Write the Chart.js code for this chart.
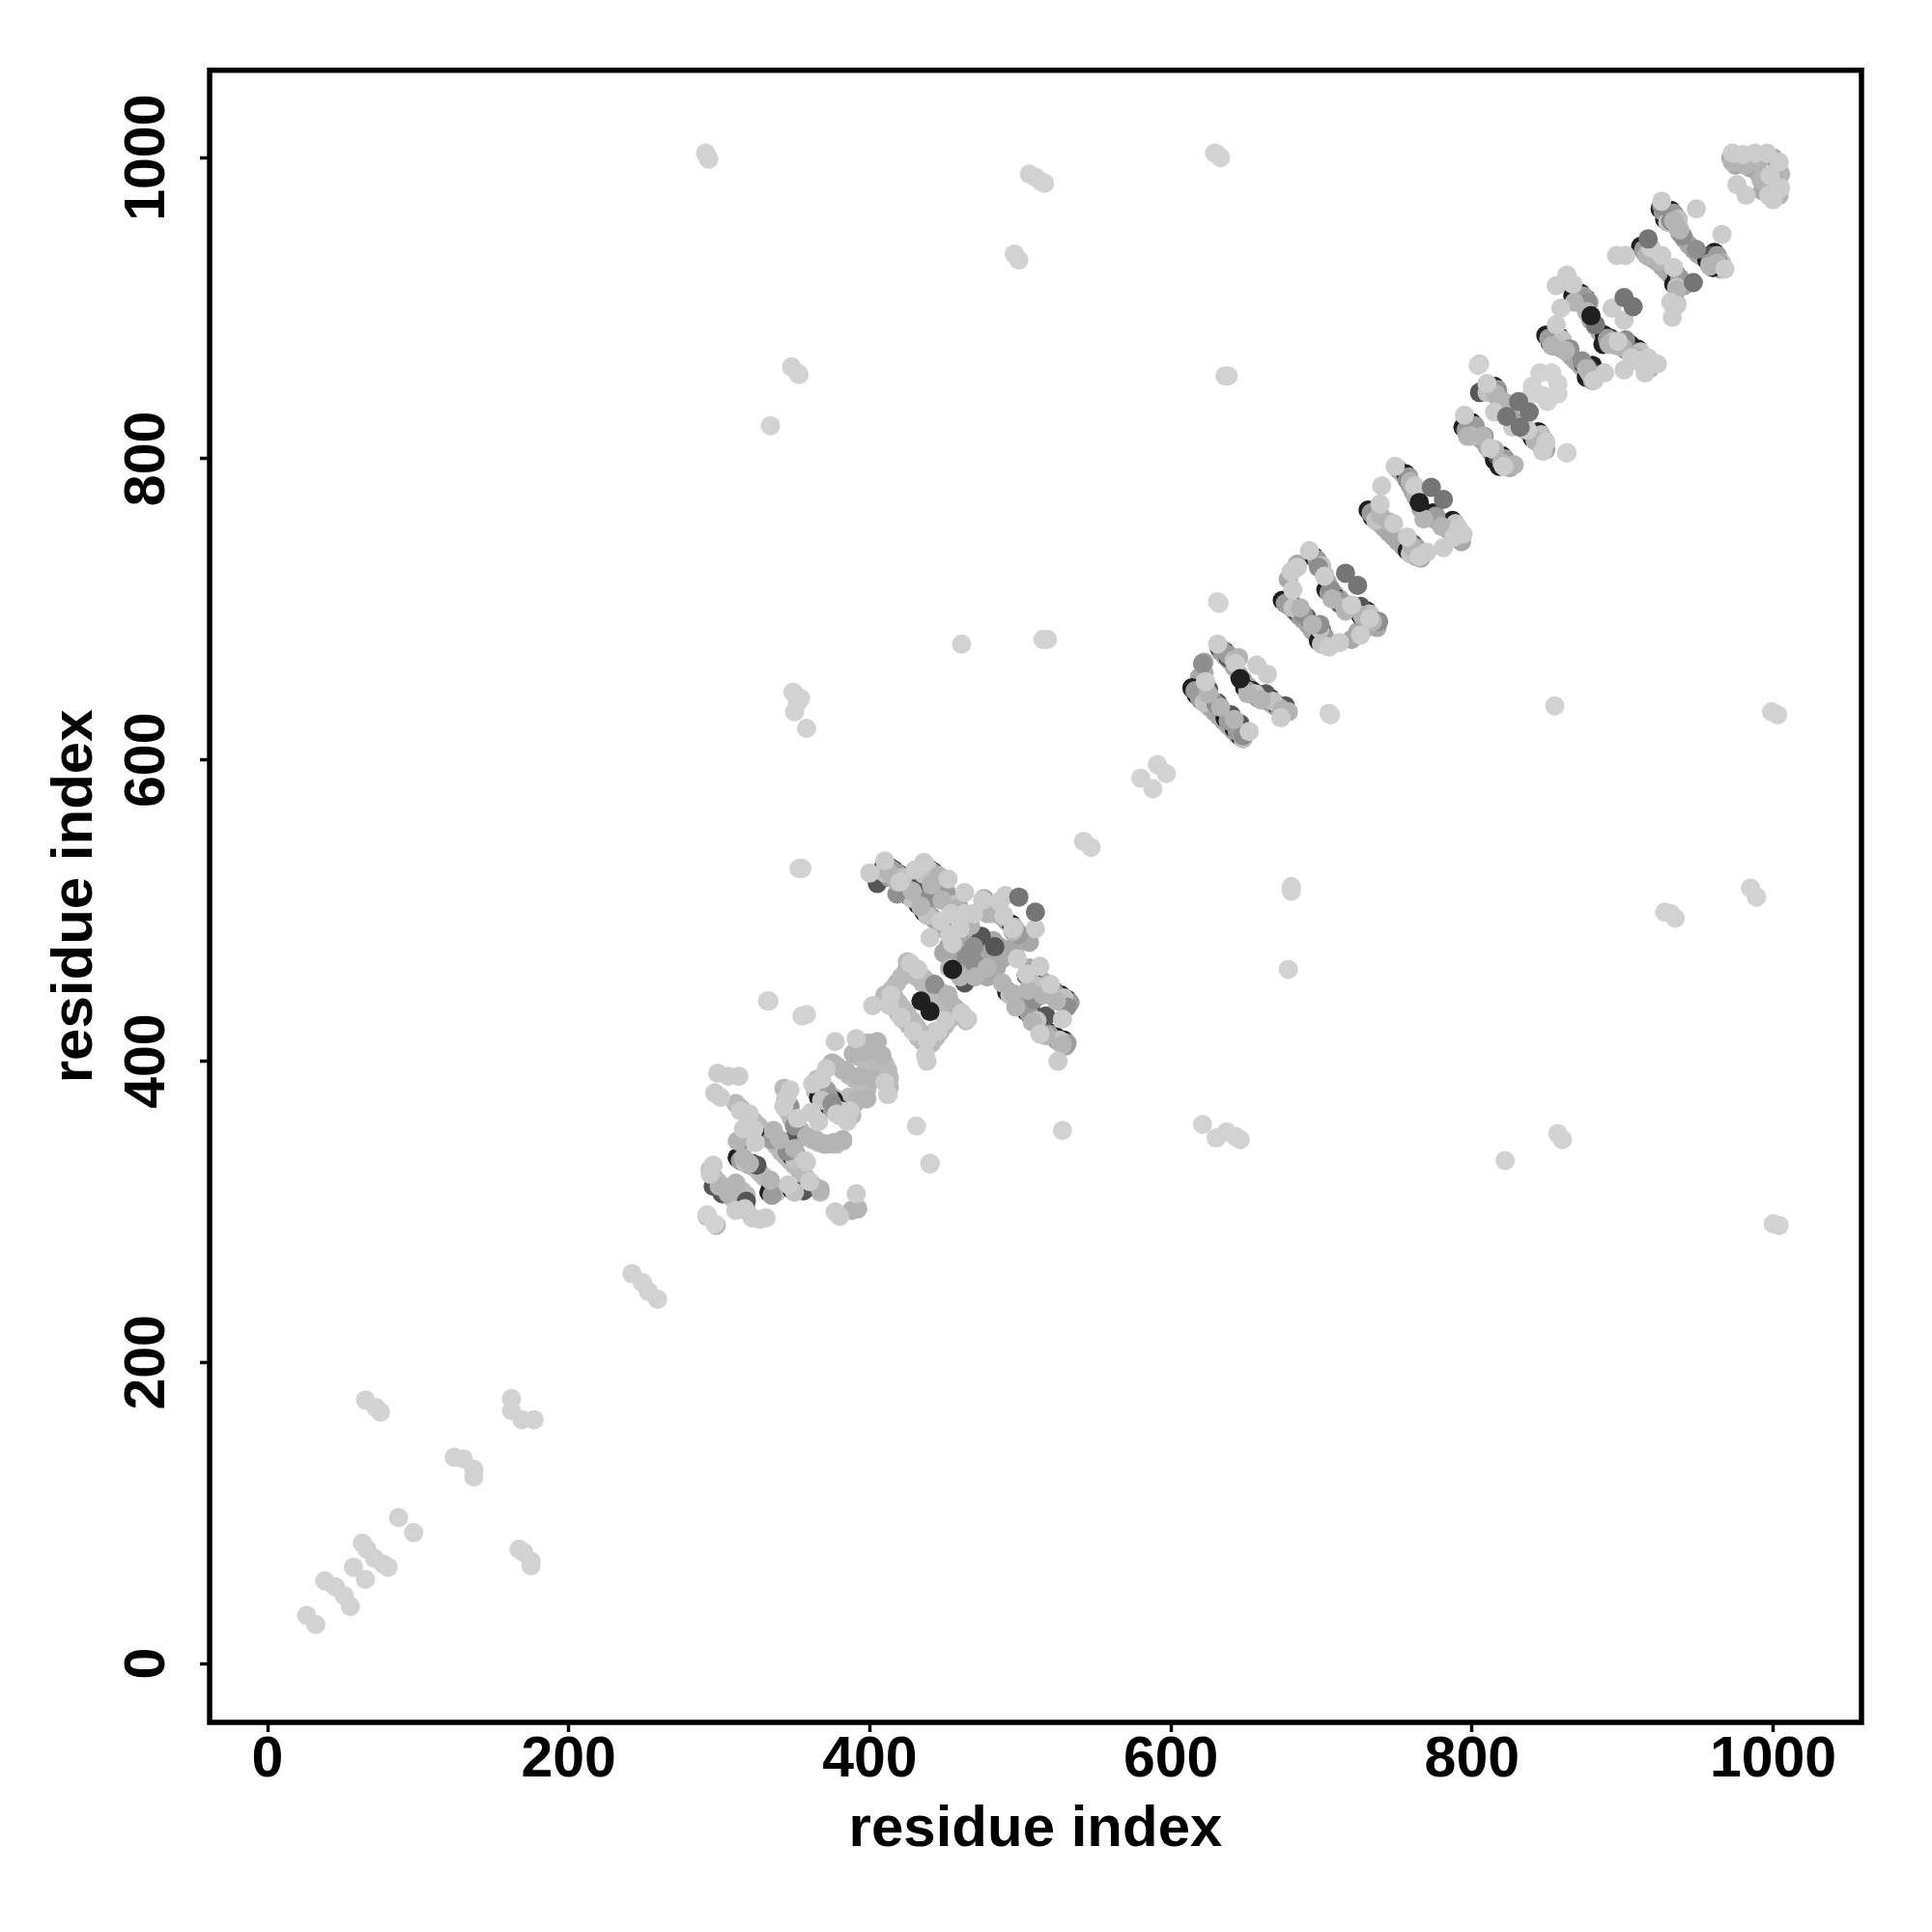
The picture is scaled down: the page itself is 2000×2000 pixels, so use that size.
<!DOCTYPE html>
<html><head><meta charset="utf-8">
<style>html,body{margin:0;padding:0;background:#fff}canvas{display:block}</style>
<script src="https://cdn.jsdelivr.net/npm/chart.js@4"></script>
</head><body><canvas id="c" width="2000" height="2000"></canvas>
<script>
const tickValues=[0,200,400,600,800,1000];
const axisTitle="residue index";
const fillA=[[412,527],[415,524],[418,522],[421,519],[424,516],[427,512],[430,509],[432,506],[435,502],[438,500],[441,496],[443,494],[446,491],[449,488],[436,528],[439,525],[442,523],[445,520],[448,516],[451,512],[454,508],[457,505],[459,503],[476,508],[479,505],[482,502],[485,499],[488,496],[491,493],[494,490],[497,487],[500,484],[503,481],[506,479],[506,462],[509,459],[512,456],[515,453],[518,450],[521,447],[524,444],[527,441],[530,438],[491,447],[494,444],[497,441],[500,438],[503,435],[506,432],[509,429],[512,426],[515,423],[518,420],[521,417],[524,414],[527,412],[530,410],[449,472],[452,476],[455,470],[458,472],[461,475],[464,478],[466,466],[469,470],[472,474],[475,466],[462,458],[466,462],[470,458],[474,460],[478,456],[480,468],[484,462],[488,468],[491,472],[494,475],[497,470],[482,480],[486,476]];
const fillB=[[425,466],[429,462],[432,458],[436,455],[440,452],[444,449],[447,446],[450,443],[453,440],[456,436],[459,433],[462,430],[464,427],[410,444],[413,440],[416,436],[419,432],[422,428],[426,424],[429,420],[432,416],[435,413],[438,410],[441,412],[444,416],[447,420],[450,424],[453,428],[456,432],[415,448],[418,452],[421,456],[424,460],[416,443],[419,439],[422,435],[425,431],[428,427],[431,423],[434,419],[437,416],[441,416],[444,420],[427,460],[431,456],[435,452],[439,448],[443,445],[447,442],[451,438],[454,434],[343,382],[345,378],[344,374],[344,370],[346,366],[348,362],[351,358],[354,354],[358,350],[362,348],[366,346],[370,345],[374,345],[378,345],[382,347],[311,372],[314,369],[317,366],[320,363],[323,360],[326,357],[329,354],[332,350],[335,347],[338,344],[341,340],[344,337],[347,334],[350,331],[353,328],[356,325],[358,322],[361,319],[364,316],[367,313],[312,336],[316,333],[320,331],[324,329],[327,326],[330,323],[333,320],[336,316],[338,313],[365,388],[368,384],[372,380],[376,376],[380,372],[384,368],[388,364],[364,380],[368,376],[372,372],[376,368],[380,364],[384,370],[386,376],[390,372],[394,378],[378,397],[382,394],[386,391],[390,388],[394,384],[398,381],[393,403],[397,400],[400,396],[403,393],[406,390],[409,387],[399,408],[403,405],[406,402],[410,398],[412,394],[413,389],[413,383],[412,378],[294,328],[296,324],[299,320],[302,317],[305,313],[308,310],[311,307],[314,304],[318,301],[315,314],[318,311]];
const fillC=[[614,647],[617,644],[620,641],[623,638],[626,635],[629,632],[632,629],[635,626],[638,623],[641,620],[644,617],[647,615],[633,672],[636,669],[639,666],[642,662],[645,657],[648,653],[651,649],[654,646],[657,644],[660,642],[663,640],[666,638],[669,636],[672,634],[675,632],[622,665],[622,658],[619,655],[676,704],[679,702],[682,699],[685,696],[688,693],[691,690],[694,686],[697,683],[700,680],[703,677],[694,735],[697,732],[700,728],[702,723],[704,718],[706,714],[709,710],[712,707],[715,704],[718,702],[722,700],[725,698],[728,695],[731,692],[734,690],[737,688],[720,680],[724,685],[730,688],[734,692],[684,730],[680,725],[678,720],[733,763],[736,760],[739,757],[742,754],[745,751],[748,748],[751,745],[754,742],[757,739],[760,737],[763,735],[766,734],[751,793],[754,790],[757,786],[759,782],[761,778],[763,774],[766,767],[769,764],[772,762],[775,760],[778,758],[781,756],[784,753],[787,750],[790,748],[793,745]];
const fillD=[[797,822],[800,819],[803,816],[806,813],[810,808],[813,804],[816,801],[819,798],[822,796],[825,794],[810,848],[813,845],[816,842],[819,839],[822,835],[825,829],[828,825],[831,822],[834,820],[837,818],[840,815],[843,812],[846,809],[849,806],[851,880],[854,878],[857,875],[860,873],[863,871],[866,868],[869,865],[872,862],[875,858],[878,855],[866,914],[869,910],[872,906],[875,902],[877,897],[879,892],[882,888],[885,884],[888,881],[891,878],[894,876],[897,875],[900,874],[903,872],[906,870],[909,867],[912,864],[915,861],[918,860],[914,939],[917,936],[920,933],[923,931],[926,928],[929,925],[932,922],[935,919],[938,916],[941,915],[927,965],[930,962],[933,958],[936,954],[938,950],[941,946],[944,942],[947,939],[950,936],[953,934],[956,932],[959,930],[962,928],[965,926],[975,1000],[978,998],[983,1000],[985,1000],[990,1000],[993,1001],[1000,1000],[985,993],[990,990],[995,985],[1000,985],[1003,992],[1002,985],[1003,978],[993,978],[997,982],[972,1000],[975,995]];
const under=[[410,531],[413,529],[416,527],[408,527],[411,524],[420,524],[423,513],[426,510],[432,504],[436,499],[436,531],[439,528],[442,526],[434,526],[438,523],[448,513],[451,509],[454,506],[476,503],[479,500],[484,503],[494,491],[497,486],[504,457],[509,452],[521,447],[527,444],[531,441],[491,446],[496,442],[504,433],[509,429],[517,420],[524,416],[529,414],[369,383],[371,378],[376,374],[366,376],[373,370],[379,369],[333,350],[348,337],[312,336],[315,335],[333,313],[348,315],[632,675],[636,672],[640,668],[614,648],[617,643],[620,640],[622,643],[626,641],[636,628],[640,625],[642,621],[646,616],[649,648],[654,646],[656,643],[666,641],[670,637],[695,735],[698,731],[674,706],[679,703],[684,698],[697,689],[700,684],[698,679],[709,708],[714,703],[703,713],[730,699],[726,696],[756,790],[731,766],[734,761],[761,743],[757,739],[774,764],[787,759],[783,756],[815,848],[808,846],[794,821],[797,817],[800,824],[815,799],[820,802],[818,795],[844,818],[840,814],[872,910],[876,906],[867,908],[849,882],[852,877],[858,881],[874,863],[878,859],[876,854],[880,862],[888,882],[892,880],[887,876],[905,876],[910,873],[903,872],[932,965],[935,961],[928,959],[925,966],[912,941],[915,937],[961,937],[964,932],[956,932],[936,922],[934,916],[960,927]];
const dark=[[474,483],[483,476],[463,452],[419,522],[428,519],[440,517],[444,512],[455,505],[405,518],[322,332],[325,331],[351,352],[296,317],[302,312],[318,307],[356,314],[351,338],[638,668],[625,647],[631,638],[640,630],[646,624],[663,644],[676,636],[681,703],[690,695],[700,686],[712,704],[726,702],[736,766],[760,744],[805,844],[800,822],[817,802],[848,812],[870,906],[855,880],[879,858],[890,878],[908,871],[932,961],[916,938],[958,935],[938,918],[517,430],[508,432],[522,447],[498,438]];
const coverGrey=[[412,529],[415,527],[418,525],[413,522],[425,511],[434,502],[441,526],[444,524],[450,511],[453,507],[478,501],[486,501],[499,484],[506,455],[523,445],[533,439],[498,440],[506,431],[519,418],[531,412],[371,381],[373,376],[375,368],[335,348],[314,334],[335,311],[634,673],[638,670],[616,646],[619,641],[624,641],[638,626],[644,619],[651,646],[658,641],[672,635],[697,733],[676,704],[686,696],[702,682],[711,706],[705,711],[728,694],[758,788],[733,764],[763,741],[776,762],[785,754],[817,846],[796,819],[802,822],[822,800],[842,812],[874,908],[851,880],[854,875],[876,861],[880,852],[890,880],[905,870],[934,963],[927,964],[914,939],[963,935],[958,930],[938,920]];
const coverLight=[[410,525],[422,522],[428,508],[438,497],[438,529],[436,524],[456,504],[481,498],[496,489],[511,450],[529,442],[493,444],[511,427],[526,414],[368,374],[381,367],[350,335],[317,333],[350,313],[642,666],[622,638],[628,639],[648,614],[656,644],[668,639],[700,729],[681,701],[699,687],[700,677],[716,701],[732,697],[736,759],[759,737],[789,757],[810,844],[799,815],[820,797],[846,816],[878,904],[860,879],[878,857],[894,878],[912,871],[937,959],[930,957],[917,935],[966,930],[936,914]];
const mid=[[418,511],[440,509],[464,470],[469,476],[470,465],[509,441],[443,451],[531,436],[347,370],[350,357],[375,372],[316,348],[345,340],[621,664],[630,637],[648,616],[706,713],[698,728],[688,697],[738,692],[699,690],[932,958],[940,948],[949,939],[926,968],[865,873],[877,904],[873,865],[902,879],[808,815],[817,844],[757,786],[964,930]];
const soft=[[413,525],[418,519],[428,513],[434,503],[441,517],[446,523],[448,507],[457,501],[467,490],[478,498],[488,496],[495,486],[453,462],[460,456],[470,456],[478,462],[488,452],[495,445],[505,447],[515,444],[524,440],[497,436],[508,426],[517,417],[528,411],[452,444],[457,435],[399,412],[405,413],[408,404],[397,407],[389,405],[375,399],[384,394],[393,390],[402,388],[398,375],[392,374],[358,350],[364,348],[370,345],[376,346],[382,348],[300,317],[306,312],[311,319],[367,315],[334,321],[392,302],[388,301],[440,332],[292,297],[298,291],[312,347],[336,354],[340,348],[350,342],[316,336],[320,332],[645,668],[651,644],[660,640],[625,644],[633,635],[642,627],[674,633],[678,632],[686,701],[694,690],[707,707],[716,699],[727,696],[734,692],[759,785],[763,776],[739,763],[745,758],[760,742],[768,760],[780,755],[789,752],[816,843],[821,838],[797,815],[807,815],[815,806],[828,796],[820,797],[842,812],[848,808],[868,904],[876,898],[853,875],[862,872],[876,860],[891,876],[900,874],[908,868],[934,958],[938,952],[916,935],[925,931],[963,930],[958,928],[936,912],[936,903],[981,995],[973,997],[986,997],[990,997],[1005,989],[1004,975],[1001,981],[992,985]];
const pale=[[400,525],[410,533],[436,532],[420,519],[430,527],[452,521],[463,512],[463,498],[454,498],[469,498],[447,493],[440,482],[453,484],[455,478],[460,488],[475,507],[490,510],[486,506],[510,488],[489,497],[495,488],[498,468],[504,458],[513,463],[520,451],[525,400],[513,418],[528,428],[432,461],[427,465],[414,444],[413,437],[421,429],[429,420],[438,414],[445,420],[450,427],[438,400],[437,404],[402,437],[465,428],[461,432],[377,413],[391,415],[371,395],[362,385],[368,388],[410,386],[412,378],[387,367],[385,360],[378,365],[347,381],[345,376],[343,370],[352,362],[361,366],[366,360],[299,392],[306,390],[313,390],[297,379],[301,376],[314,367],[320,365],[323,355],[324,346],[316,355],[357,334],[358,333],[346,318],[360,320],[296,331],[294,325],[311,301],[317,302],[322,296],[327,295],[331,296],[377,300],[380,297],[391,312],[631,677],[643,664],[657,663],[664,657],[623,652],[673,628],[652,619],[692,739],[684,728],[680,725],[681,713],[702,722],[712,678],[705,675],[726,683],[732,694],[720,703],[749,795],[740,782],[739,770],[748,757],[757,748],[770,738],[765,735],[762,782],[794,750],[791,754],[781,741],[788,748],[805,863],[810,850],[795,829],[812,807],[821,795],[849,811],[847,805],[837,819],[827,821],[815,831],[863,804],[863,922],[856,915],[867,916],[859,900],[856,889],[893,900],[901,892],[888,857],[881,852],[901,859],[915,857],[923,863],[917,867],[911,865],[897,878],[906,867],[926,971],[949,966],[966,949],[902,935],[896,935],[926,935],[934,927],[968,926],[936,902],[932,904],[933,894],[919,940],[973,1003],[980,1002],[988,1003],[996,1003],[1004,997],[976,982],[982,975],[998,988],[997,975],[1000,972],[1005,980]];
const lightest=[[26,32],[32,26],[38,55],[45,51],[51,45],[55,38],[57,64],[65,56],[63,80],[66,76],[71,70],[77,66],[80,64],[87,97],[97,87],[65,175],[72,170],[75,167],[124,137],[130,136],[137,129],[137,124],[162,176],[162,168],[169,162],[177,162],[167,76],[170,74],[175,68],[175,65],[242,259],[249,253],[253,247],[259,242],[291,1003],[292,1001],[293,999],[297,292],[292,298],[629,1003],[631,1002],[633,1000],[506,989],[510,987],[514,984],[516,983],[496,936],[499,932],[348,861],[352,857],[353,856],[334,822],[636,855],[638,855],[461,677],[515,680],[518,680],[631,705],[632,704],[680,516],[680,513],[678,461],[353,528],[355,528],[542,546],[547,542],[580,588],[588,581],[591,597],[597,591],[349,645],[354,641],[352,638],[350,632],[358,621],[705,631],[706,630],[855,636],[999,632],[1003,630],[863,804],[804,862],[928,499],[932,498],[935,495],[985,515],[989,509],[1000,292],[1004,291],[857,352],[860,348],[822,334],[621,358],[630,349],[637,353],[643,350],[646,348],[528,354],[431,357],[440,332],[332,440],[333,440],[355,430],[358,431],[845,857],[853,857],[857,850],[840,848],[857,843],[847,842],[850,838],[840,843]];
const topGrey=[[499,509],[510,499],[831,838],[838,831],[823,828],[832,821],[773,781],[781,773],[716,724],[724,716],[901,907],[907,901],[882,889],[917,946],[947,917]];
const topBlack=[[455,461],[434,440],[440,433],[765,771],[646,654],[879,895]];
const layers=[[fillA,"#a8a8a8"],[fillB,"#bababa"],[fillC,"#a8a8a8"],[fillD,"#a8a8a8"],[under,"#1f1f1f"],[dark,"#565656"],[coverGrey,"#9c9c9c"],[coverLight,"#c2c2c2"],[mid,"#8e8e8e"],[soft,"#b4b4b4"],[pale,"#cccccc"],[lightest,"#d2d2d2"],[topGrey,"#757575"],[topBlack,"#1f1f1f"]];
const FONT="'Liberation Sans', Arial, sans-serif";
const frame={id:"frame",afterDatasetsDraw(ch){const a=ch.chartArea,g=ch.ctx;g.save();g.strokeStyle="#000";g.lineWidth=5.5;g.lineJoin="miter";g.strokeRect(a.left,a.top,a.width,a.height);g.restore();}};
function axis(isX){return{
  type:"linear",min:isX?-38.5:-39,max:isX?1058.7:1058,
  afterFit(s){if(isX)s.height=217;else s.width=217;},
  grid:{display:true,drawOnChartArea:false,drawTicks:true,tickLength:10,tickWidth:3.5,tickColor:"#000"},
  border:{display:false},
  afterBuildTicks(s){s.ticks=tickValues.map(v=>({value:v}));},
  ticks:{includeBounds:false,autoSkip:false,color:"#000",font:{family:FONT,weight:"bold",size:59},padding:isX?-6:-12,
    minRotation:isX?0:90,maxRotation:isX?0:90,crossAlign:isX?"near":"center",callback:v=>String(v)},
  title:{display:true,text:axisTitle,color:"#000",font:{family:FONT,weight:"bold",size:60},padding:isX?{top:0,bottom:70}:{top:42,bottom:0}}
};}
new Chart(document.getElementById("c"),{type:"scatter",
 data:{datasets:layers.map(([pts,col],i)=>({data:pts.map(([x,y])=>({x,y})),backgroundColor:col,borderWidth:0,pointRadius:10,order:layers.length-i}))},
 options:{responsive:false,animation:false,devicePixelRatio:1,layout:{padding:{top:72.7,right:73,left:0,bottom:0}},
  plugins:{legend:{display:false},tooltip:{enabled:false}},scales:{x:axis(true),y:axis(false)}},
 plugins:[frame]});
</script></body></html>
